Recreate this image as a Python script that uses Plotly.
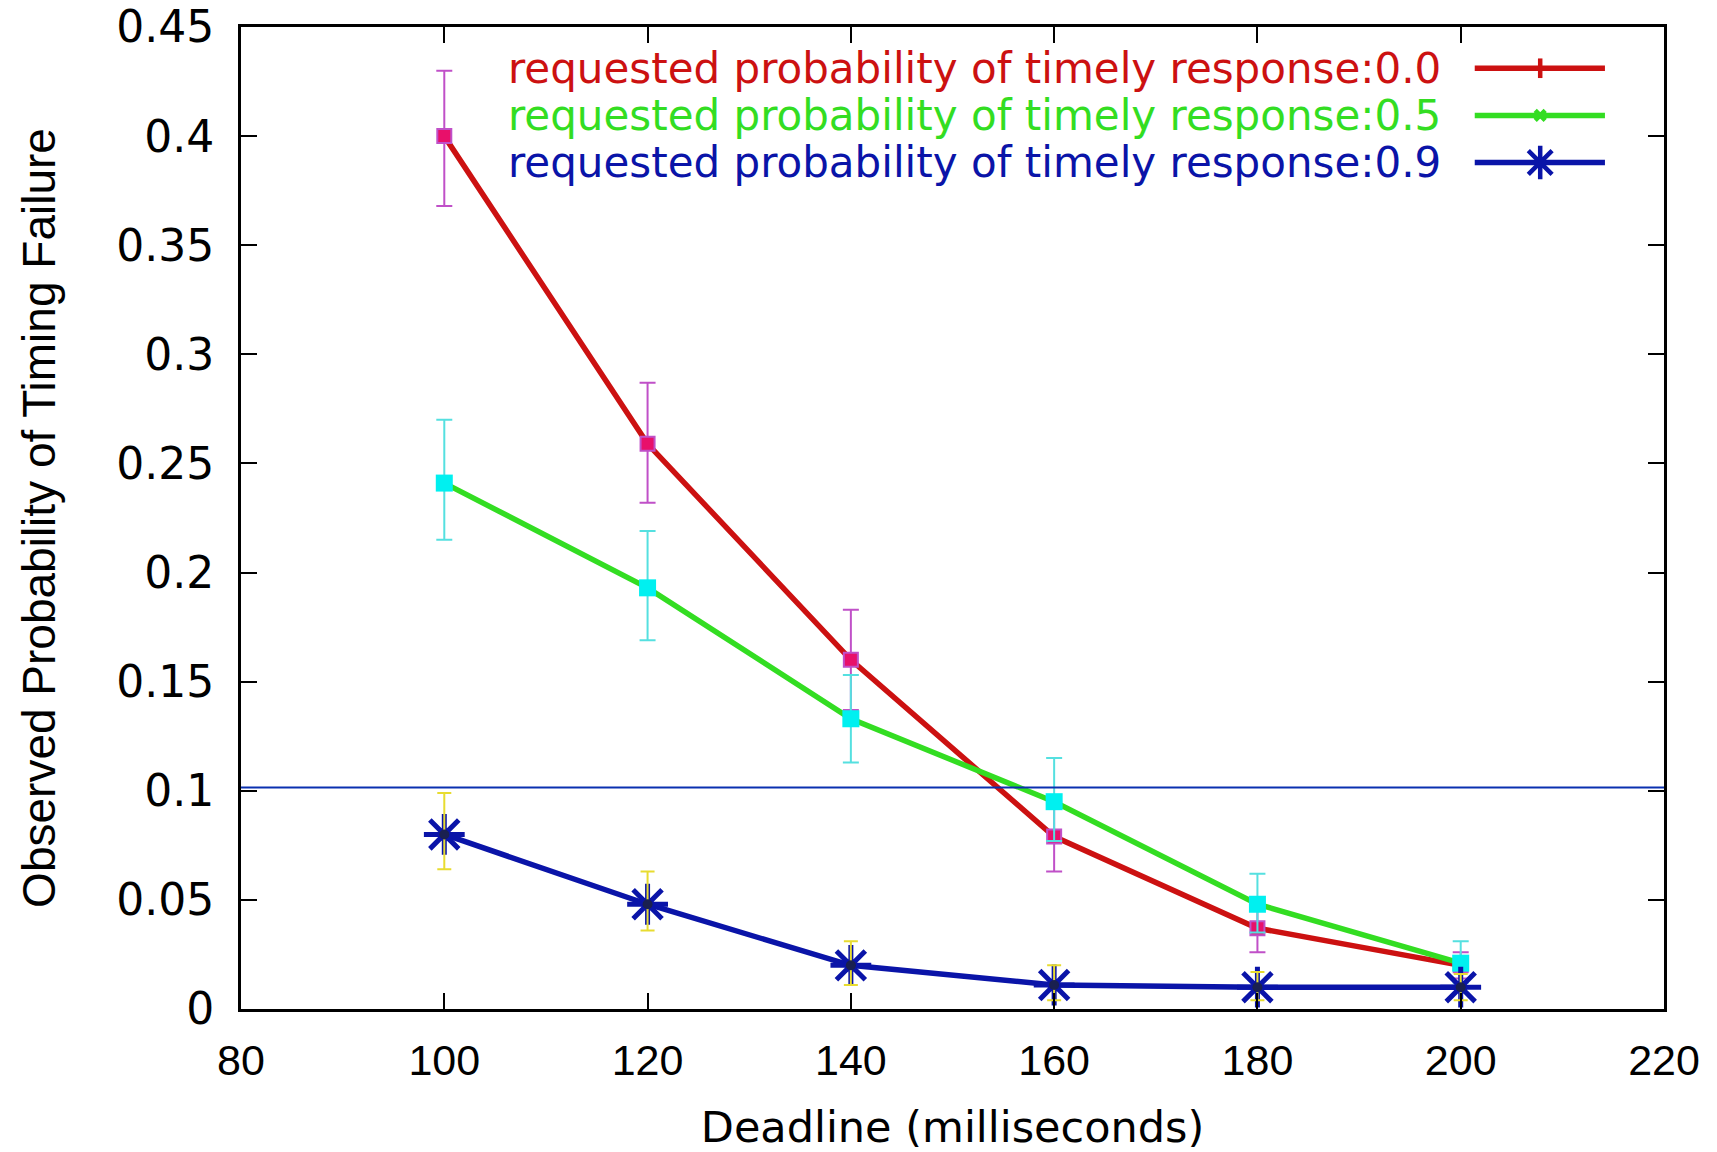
import plotly.graph_objects as go

# ---------------- data ----------------
deadlines = [100, 120, 140, 160, 180, 200]

p00_vals = [0.400, 0.259, 0.160, 0.079, 0.037, 0.020]
p00_upper = [0.430, 0.287, 0.183, 0.095, 0.047, 0.026]
p00_lower = [0.368, 0.232, 0.137, 0.063, 0.026, 0.014]

p05_vals = [0.241, 0.193, 0.133, 0.095, 0.048, 0.021]
p05_upper = [0.270, 0.219, 0.153, 0.115, 0.062, 0.031]
p05_lower = [0.215, 0.169, 0.113, 0.077, 0.035, 0.012]

p09_vals = [0.080, 0.048, 0.020, 0.011, 0.010, 0.010]
p09_upper = [0.099, 0.063, 0.031, 0.020, 0.017, 0.016]
p09_lower = [0.064, 0.036, 0.011, 0.004, 0.004, 0.004]

threshold = 0.1015

series_names = [
    "requested probability of timely response:0.0",
    "requested probability of timely response:0.5",
    "requested probability of timely response:0.9",
]

x_ticks = [80, 100, 120, 140, 160, 180, 200, 220]
y_ticks = [0, 0.05, 0.1, 0.15, 0.2, 0.25, 0.3, 0.35, 0.4, 0.45]
y_tick_text = ["0", "0.05", "0.1", "0.15", "0.2", "0.25", "0.3", "0.35", "0.4", "0.45"]

# ---------------- styles ----------------
SANS = "Liberation Sans, Arial, Helvetica, sans-serif"
WIDE = "DejaVu Sans, Verdana, sans-serif"
RED, GREEN, BLUE = "#cc1111", "#33dd22", "#0a14a8"
ERR_RED, ERR_GREEN, ERR_BLUE = "#c050c8", "#55e0e0", "#e8dc30"
LW = 5.5


def err(vals, up, lo):
    return dict(
        array=[u - v for u, v in zip(up, vals)],
        arrayminus=[v - l for v, l in zip(vals, lo)],
    )


fig = go.Figure()

# threshold line
fig.add_hline(y=threshold, line=dict(color="#0a30b0", width=2))

# series 0.0
e = err(p00_vals, p00_upper, p00_lower)
fig.add_trace(go.Scatter(
    x=deadlines, y=p00_vals, mode="lines", name=series_names[0],
    line=dict(color=RED, width=LW), showlegend=False))
fig.add_trace(go.Scatter(
    x=deadlines, y=p00_vals, mode="markers", showlegend=False,
    error_y=dict(type="data", symmetric=False, **e, color=ERR_RED, thickness=2, width=8),
    marker=dict(symbol="square", size=14, color="#e8106a",
                line=dict(color="#c050c8", width=2))))

# series 0.5
e = err(p05_vals, p05_upper, p05_lower)
fig.add_trace(go.Scatter(
    x=deadlines, y=p05_vals, mode="lines", name=series_names[1],
    line=dict(color=GREEN, width=LW), showlegend=False))
fig.add_trace(go.Scatter(
    x=deadlines, y=p05_vals, mode="markers", showlegend=False,
    error_y=dict(type="data", symmetric=False, **e, color=ERR_GREEN, thickness=2, width=8),
    marker=dict(symbol="square", size=17, color="#00f0f0")))

# series 0.9
e = err(p09_vals, p09_upper, p09_lower)
fig.add_trace(go.Scatter(
    x=deadlines, y=p09_vals, mode="lines+markers", name=series_names[2],
    line=dict(color=BLUE, width=LW), showlegend=False,
    marker=dict(symbol="asterisk-open", size=34, color=BLUE,
                line=dict(color=BLUE, width=5))))
fig.add_trace(go.Scatter(
    x=deadlines, y=p09_vals, mode="markers", showlegend=False,
    error_y=dict(type="data", symmetric=False, **e, color=ERR_BLUE, thickness=2, width=7),
    marker=dict(symbol="circle", size=10, color="#1a2050")))

# ---------------- manual gnuplot-style legend ----------------
leg_colors = [RED, GREEN, BLUE]
leg_symbols = ["line-ns", "x-thin-open", "asterisk-open"]
leg_sizes = [14, 10, 28]
leg_y = [0.958, 0.910, 0.862]
leg_text_x = 0.8447
leg_line_x0, leg_line_x1, leg_mark_x = 0.867, 0.9585, 0.913

for name, c, sym, sz, yy in zip(series_names, leg_colors, leg_symbols, leg_sizes, leg_y):
    fig.add_annotation(x=leg_text_x, y=yy, xref="paper", yref="paper",
                       text=name, showarrow=False, xanchor="right", yanchor="middle",
                       font=dict(family=WIDE, size=42, color=c))
    fig.add_shape(type="line", xref="paper", yref="paper",
                  x0=leg_line_x0, x1=leg_line_x1, y0=yy, y1=yy,
                  line=dict(color=c, width=LW))
    fig.add_trace(go.Scatter(
        x=[leg_mark_x], y=[yy], xaxis="x2", yaxis="y2", mode="markers",
        showlegend=False, hoverinfo="skip",
        marker=dict(symbol=sym, size=sz, color=c, line=dict(color=c, width=4.5))))

axis_common = dict(
    showline=True, linecolor="black", linewidth=3, mirror="allticks",
    ticks="inside", ticklen=16, tickwidth=2, tickcolor="black",
    showgrid=False, zeroline=False, automargin=False,
)

fig.update_layout(
    width=1717, height=1152,
    margin=dict(l=241, r=53, t=27, b=143, autoexpand=False),
    paper_bgcolor="white", plot_bgcolor="white",
    showlegend=False,
    xaxis=dict(range=[80, 220], tickvals=x_ticks, ticklabelstandoff=11,
               tickfont=dict(family=SANS, size=43, color="black"),
               title=dict(text="Deadline (milliseconds)", standoff=42,
                          font=dict(family=WIDE, size=43, color="black")),
               **axis_common),
    yaxis=dict(range=[0, 0.45], tickvals=y_ticks, ticktext=y_tick_text,
               ticklabelstandoff=15,
               tickfont=dict(family=WIDE, size=44, color="black"),
               title=dict(text="Observed Probability of Timing Failure", standoff=47,
                          font=dict(family=SANS, size=46, color="black")),
               **axis_common),
    xaxis2=dict(range=[0, 1], overlaying="x", visible=False, automargin=False),
    yaxis2=dict(range=[0, 1], overlaying="y", visible=False, anchor="x2", automargin=False),
)

# remove the browser's default page margin so the figure fills the window exactly
fig.write_html("out.html",
               config={"displayModeBar": False},
               post_script="document.body.style.margin='0';document.body.style.overflow='hidden';")
